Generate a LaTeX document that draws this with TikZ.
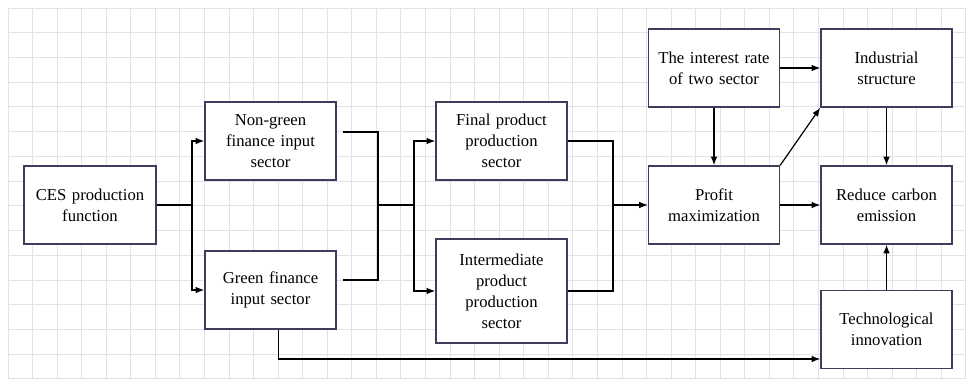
\documentclass[tikz,border=0pt]{standalone}
\usepackage{xcolor}
\usepackage{fontspec}
\setmainfont{Liberation Serif}
\usepackage{tikz}
\usetikzlibrary{calc}
\usetikzlibrary{arrows.meta}
\definecolor{boxedge}{RGB}{62,62,92}
\definecolor{gridgray}{RGB}{226,226,228}
\tikzset{
  stagebox/.style={draw=boxedge, line width=1.1pt, fill=white, minimum width=98.25pt,
    minimum height=58.5pt, inner sep=0pt, text width=94pt, align=center,
    font=\fontsize{12.5}{15.75}\selectfont},
  flow/.style={line width=0.9pt, -{Latex[length=6.5pt,width=5pt]}},
  wire/.style={line width=0.9pt},
  gridline/.style={draw=gridgray, line width=0.7pt}
}
\begin{document}
\begin{tikzpicture}[x=0.75pt,y=-0.75pt]
            \useasboundingbox (0,0) rectangle (967,381);%

            % Background grid
            \foreach \i in {0,...,39}
              \draw [gridline] ({8+24.56*\i},8) -- ({8+24.56*\i},379);%
            \foreach \j in {0,...,15}
              \draw [gridline] (8,{8+24.73*\j}) -- (966,{8+24.73*\j});%

            % Drawing boxes of the first columns
            \node [stagebox, minimum width=99pt] (ces) at (90,205) {CES production\\function};%
            \node [stagebox] (ng) at (270.5,141) {Non-green\\finance input\\sector};%
            \node [stagebox] (gf) at (270.5,290) {Green finance\\input sector};%
            \node [stagebox] (fp) at (501.5,141) {Final product\\production\\sector};%
            \node [stagebox, minimum height=78pt] (ip) at (501.5,291) {Intermediate\\product\\production\\sector};%

            % Drawing boxes on the right
            \node [stagebox] (ir) at (714,68) {The interest rate\\of two sector};%
            \node [stagebox] (is) at (886.5,68) {Industrial\\structure};%
            \node [stagebox] (pm) at (714,205) {Profit\\maximization};%
            \node [stagebox] (rc) at (886.5,205) {Reduce carbon\\emission};%
            \node [stagebox] (ti) at (886.5,329.5) {Technological\\innovation};%

            % Split after CES production function
            \coordinate (cessplit) at (192,205);%
            \draw [wire] (ces.east) -- (cessplit);%
            \draw [flow] (cessplit) |- (ng.west);%
            \draw [flow] (cessplit) |- (gf.west);%

            % Joining the two finance sectors
            \coordinate (finjoin) at (378,205);%
            \coordinate (prodsplit) at (414,205);%
            \draw [wire] ($(ng.east)+(6,-9)$) -| (finjoin);%
            \draw [wire] ($(gf.east)+(6,-10)$) -| (finjoin);%
            \draw [wire] (finjoin) -- (prodsplit);%
            \draw [flow] (prodsplit) |- (fp.west);%
            \draw [flow] (prodsplit) |- (ip.west);%

            % Joining the two production sectors
            \coordinate (prodjoin) at (613,205);%
            \draw [wire] (fp.east) -| (prodjoin);%
            \draw [wire] (ip.east) -| (prodjoin);%
            \draw [flow] (prodjoin) -- (pm.west);%

            % Arrows on the right
            \draw [flow] (ir.south) -- (pm.north);%
            \draw [flow] (ir.east) -- (is.west);%
            \draw [flow] (pm.north east) -- (is.south west);%
            \draw [flow] (pm.east) -- (rc.west);%
            \draw [flow] (is.south) -- (rc.north);%
            \draw [flow] (ti.north) -- (rc.south);%
            \draw [flow] ($(gf.south)+(8,0)$) |- ($(ti.west)+(0,29.5)$);%
\end{tikzpicture}
\end{document}
